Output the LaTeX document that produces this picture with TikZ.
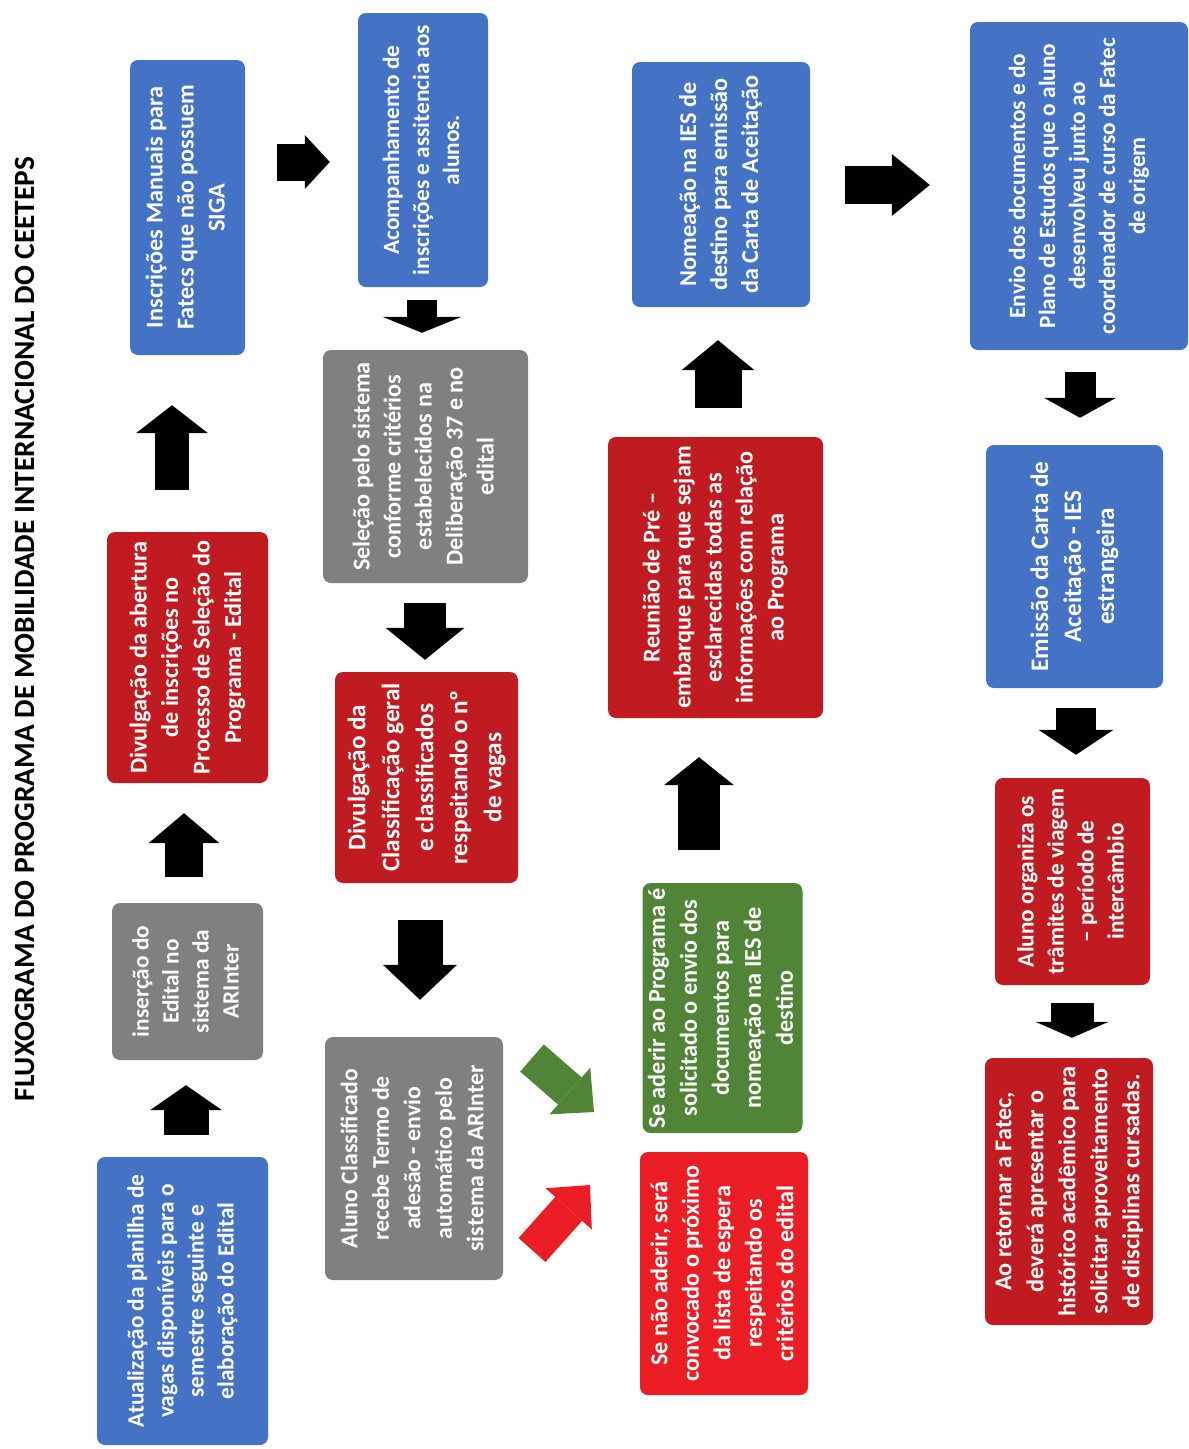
\documentclass[tikz,border=0pt]{standalone}
\usepackage{fontspec}
\setmainfont{Carlito}
\usetikzlibrary{arrows.meta}
\definecolor{cblue}{RGB}{68,114,196}
\definecolor{cgray}{RGB}{128,128,128}
\definecolor{cred}{RGB}{192,27,32}
\definecolor{cbred}{RGB}{234,30,36}
\definecolor{cgreen}{RGB}{80,133,55}
\newcommand{\vt}[1]{\rotatebox{90}{\begin{tabular}{@{}c@{}}#1\end{tabular}}}
\begin{document}
\begin{tikzpicture}[x=1pt,y=-1pt,
  box/.style n args={2}{rectangle, rounded corners=8pt, inner sep=0pt,
     minimum width=#1, minimum height=#2, text=white},
  fs/.style 2 args={font=\fontsize{#1}{#2}\selectfont\bfseries},
  bluebox/.style={fill=cblue},
  graybox/.style={fill=cgray},
  redbox/.style={fill=cred},
  brightbox/.style={fill=cbred},
  greenbox/.style={fill=cgreen},
  barrow/.style n args={3}{draw=black, line width=#1,
     -{Triangle[length=#3, width=#2, line width=0pt]}},
]
\useasboundingbox (0,0) rectangle (1189,1449);

\node[rotate=90, fs={29.4}{35}] (title) at (25,629)
  {FLUXOGRAMA DO PROGRAMA DE MOBILIDADE INTERNACIONAL DO CEETEPS};

% column 1
\node[box={171pt}{288pt}, bluebox, fs={23.3}{30}] (b1) at (182.5,1301)
  {\vt{Atualização da planilha de\\vagas disponíveis para o\\semestre seguinte e\\elaboração do Edital}};
\node[box={151pt}{157pt}, graybox, fs={23.3}{30}] (b2) at (187.5,981.5)
  {\vt{inserção do\\Edital no\\sistema da\\ARInter}};
\node[box={161pt}{251pt}, redbox, fs={24.2}{31.5}] (b3) at (187.5,657.5)
  {\vt{Divulgação da abertura\\de inscrições no\\Processo de Seleção do\\Programa - Edital}};
\node[box={115pt}{295pt}, bluebox, fs={24.2}{31}] (b4) at (187.5,207.5)
  {\vt{Inscrições Manuais para\\Fatecs que não possuem\\SIGA}};

% column 2
\node[box={130pt}{274pt}, bluebox, fs={23.3}{30}] (b5) at (423,150)
  {\vt{Acompanhamento de\\inscrições e assitencia aos\\alunos.}};
\node[box={205pt}{233pt}, graybox, fs={24.2}{31}] (b6) at (425.5,466.5)
  {\vt{Seleção pelo sistema\\conforme critérios\\estabelecidos na\\Deliberação 37 e no\\edital}};
\node[box={183pt}{211pt}, redbox, fs={25.2}{34}] (b7) at (426.5,777.5)
  {\vt{Divulgação da\\Classificação geral\\e classificados\\respeitando o nº\\de vagas}};
\node[box={178pt}{243pt}, graybox, fs={23.8}{31.5}] (b8) at (414,1158.5)
  {\vt{Aluno Classificado\\recebe Termo de\\adesão - envio\\automático pelo\\sistema da ARInter}};

% column 3
\node[box={159pt}{250pt}, greenbox, fs={24.2}{32}] (b9) at (722.5,1008)
  {\vt{Se aderir ao Programa é\\solicitado o envio dos\\documentos para\\nomeação na IES de\\destino}};
\node[box={168pt}{243pt}, brightbox, fs={24.2}{31.5}] (b10) at (724,1273.5)
  {\vt{Se não aderir, será\\convocado o próximo\\da lista de espera\\respeitando os\\critérios do edital}};
\node[box={215pt}{281pt}, redbox, fs={24.2}{31}] (b11) at (715.5,577.5)
  {\vt{Reunião de Pré –\\embarque para que sejam\\esclarecidas todas as\\informações com relação\\ao Programa}};
\node[box={178pt}{245pt}, bluebox, fs={24.2}{31}] (b12) at (721,184.5)
  {\vt{Nomeação na IES de\\destino para emissão\\da Carta de Aceitação}};

% column 4
\node[box={218pt}{328pt}, bluebox, fs={23.3}{30}] (b13) at (1079,186)
  {\vt{Envio dos documentos e do\\Plano de Estudos que o aluno\\desenvolveu junto ao\\coordenador de curso da Fatec\\de origem}};
\node[box={177pt}{243pt}, bluebox, fs={25.2}{33}] (b14) at (1074.5,566.5)
  {\vt{Emissão da Carta de\\Aceitação - IES\\estrangeira}};
\node[box={155pt}{207pt}, redbox, fs={23.3}{30}] (b15) at (1072.5,881.5)
  {\vt{Aluno organiza os\\trâmites de viagem\\– período de\\intercâmbio}};
\node[box={168pt}{267pt}, redbox, fs={24.2}{32}] (b16) at (1069,1191.5)
  {\vt{Ao retornar a Fatec,\\deverá apresentar o\\histórico acadêmico para\\solicitar aproveitamento\\de disciplinas cursadas.}};

% black block arrows
\draw[barrow={45pt}{72pt}{25pt}, shorten <=22pt, shorten >=25pt]
  ([xshift=3.5pt]b1.north) -- ([xshift=-1.5pt]b2.south);
\draw[barrow={38pt}{71pt}{30pt}, shorten <=26pt, shorten >=30pt]
  ([xshift=-3.5pt]b2.north) -- ([xshift=-3.5pt]b3.south);
\draw[barrow={34pt}{72pt}{28pt}, shorten <=42pt, shorten >=50pt]
  ([xshift=-15.5pt]b3.north) -- ([xshift=-15.5pt]b4.south);
\draw[barrow={37pt}{54pt}{25pt}, shorten <=32pt, shorten >=28pt]
  ([yshift=45.5pt]b4.east) -- ([yshift=-12pt]b5.west);
\draw[barrow={30pt}{79pt}{16pt}, shorten <=13pt, shorten >=17pt]
  ([xshift=-1pt]b5.south) -- ([xshift=-3.5pt]b6.north);
\draw[barrow={42pt}{79pt}{32pt}, shorten <=20pt, shorten >=12pt]
  ([xshift=-0.5pt]b6.south) -- ([xshift=-1.5pt]b7.north);
\draw[barrow={45pt}{74pt}{35pt}, shorten <=37pt, shorten >=37pt]
  ([xshift=-6.5pt]b7.south) -- ([xshift=6pt]b8.north);
\draw[barrow={42pt}{70pt}{28pt}, shorten <=33pt, shorten >=39pt]
  ([xshift=-23.5pt]b9.north) -- ([xshift=-16.5pt]b11.south);
\draw[barrow={47pt}{73pt}{30pt}, shorten <=29pt, shorten >=33pt]
  ([xshift=2.5pt]b11.north) -- ([xshift=-3pt]b12.south);
\draw[barrow={38pt}{62pt}{38pt}, shorten <=35pt, shorten >=40pt]
  ([yshift=-0.5pt]b12.east) -- ([yshift=1pt]b13.west);
\draw[barrow={31pt}{72pt}{20pt}, shorten <=22pt, shorten >=27pt]
  ([xshift=1pt]b13.south) -- ([xshift=5.5pt]b14.north);
\draw[barrow={40pt}{75pt}{25pt}, shorten <=20pt, shorten >=23pt]
  ([xshift=1.5pt]b14.south) -- ([xshift=3.5pt]b15.north);
\draw[barrow={43pt}{73pt}{16pt}, shorten <=18pt, shorten >=20pt]
  ([xshift=-0.5pt]b15.south) -- ([xshift=3pt]b16.north);

% coloured diagonal arrows
\coordinate (g1) at (532,1058);
\coordinate (g2) at (594,1112);
\coordinate (r1) at (532,1250);
\coordinate (r2) at (590,1185);
\draw[barrow={36pt}{62pt}{32pt}, draw=cgreen, -{Triangle[length=32pt,width=62pt,line width=0pt,fill=cgreen,color=cgreen]}] (g1) -- (g2);
\draw[barrow={36pt}{62pt}{32pt}, draw=cbred, -{Triangle[length=32pt,width=62pt,line width=0pt,fill=cbred,color=cbred]}] (r1) -- (r2);
\end{tikzpicture}
\end{document}
